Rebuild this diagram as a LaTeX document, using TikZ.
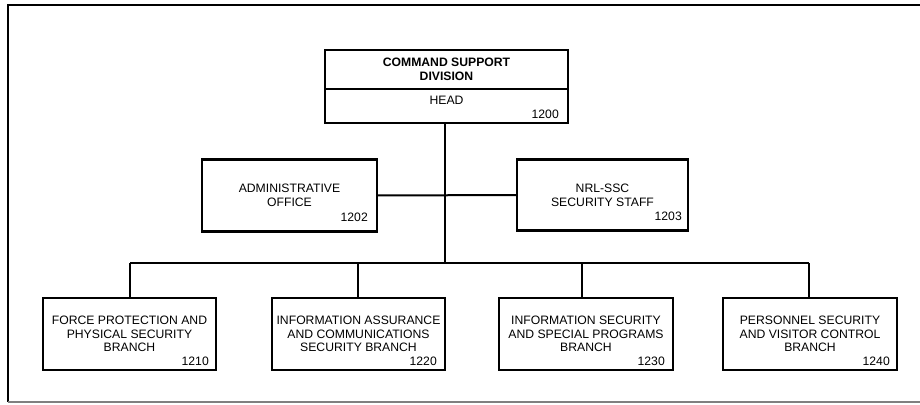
\documentclass[tikz,border=0pt]{standalone}
\usepackage{fontspec}
\setmainfont{Liberation Sans}
\usetikzlibrary{calc}
\tikzset{
  box/.style={draw, line width=2.3pt, inner sep=0pt, outer sep=0pt, align=center,
    font=\fontsize{12.2}{13.6}\selectfont},
  num/.style={anchor=base east, inner sep=0pt, font=\fontsize{12.2}{13.6}\selectfont},
  conn/.style={line width=2pt},
}
\begin{document}
\begin{tikzpicture}[x=1pt,y=-1pt]
\useasboundingbox (0,0) rectangle (920,404);
% frame
\draw[line width=2pt] (8,402) -- (8,5) -- (920,5);
\draw[gray, line width=1.5pt] (8,402) -- (920,402);

% top box
\node[box, minimum width=243pt, minimum height=39pt, font=\fontsize{12.2}{13.8}\selectfont\bfseries] (top) at (446.5,69.5) {COMMAND SUPPORT\\DIVISION};
\node[box, minimum width=243pt, minimum height=34pt, anchor=north] (head) at (top.south) {};
\node[anchor=base, inner sep=0pt, font=\fontsize{12.2}{13.6}\selectfont] (headtxt) at (446.5,104) {HEAD};
\node[num] (n1200) at ($(head.south east)+(-9,-5)$) {1200};

% middle boxes
\node[box, minimum width=175pt, minimum height=72pt] (adm) at (289.5,195.5) {ADMINISTRATIVE\\OFFICE};
\node[num] (n1202) at ($(adm.south east)+(-9,-10)$) {1202};
\node[box, minimum width=171pt, minimum height=71pt] (nrl) at (602.5,195) {NRL-SSC\\SECURITY STAFF};
\node[num] (n1203) at ($(nrl.south east)+(-6,-10)$) {1203};

% bottom boxes
\node[box, minimum width=173pt, minimum height=72pt] (b1) at (129.5,334) {FORCE PROTECTION AND\\PHYSICAL SECURITY\\BRANCH};
\node[box, minimum width=173pt, minimum height=72pt] (b2) at (358.5,334) {INFORMATION ASSURANCE\\AND COMMUNICATIONS\\SECURITY BRANCH};
\node[box, minimum width=174pt, minimum height=72pt] (b3) at (586,334) {INFORMATION SECURITY\\AND SPECIAL PROGRAMS\\BRANCH};
\node[box, minimum width=174pt, minimum height=72pt] (b4) at (810,334) {PERSONNEL SECURITY\\AND VISITOR CONTROL\\BRANCH};
\node[num] (n1210) at ($(b1.south east)+(-7,-5)$) {1210};
\node[num] (n1220) at ($(b2.south east)+(-8,-5)$) {1220};
\node[num] (n1230) at ($(b3.south east)+(-8,-5)$) {1230};
\node[num] (n1240) at ($(b4.south east)+(-7,-5)$) {1240};

% connectors
\coordinate (bus0) at (445,263);
\coordinate (bus1) at (130,263);
\coordinate (bus2) at (358,263);
\coordinate (bus3) at (582,263);
\coordinate (bus4) at (809,263);
\draw[conn] (head.south -| bus0) -- (bus0);
\draw[conn] (adm.east) -- (nrl.west);
\draw[conn] (bus1) -- (bus4);
\draw[conn] (bus1) -- (bus1 |- b1.north);
\draw[conn] (bus2) -- (bus2 |- b2.north);
\draw[conn] (bus3) -- (bus3 |- b3.north);
\draw[conn] (bus4) -- (bus4 |- b4.north);
\end{tikzpicture}
\end{document}
